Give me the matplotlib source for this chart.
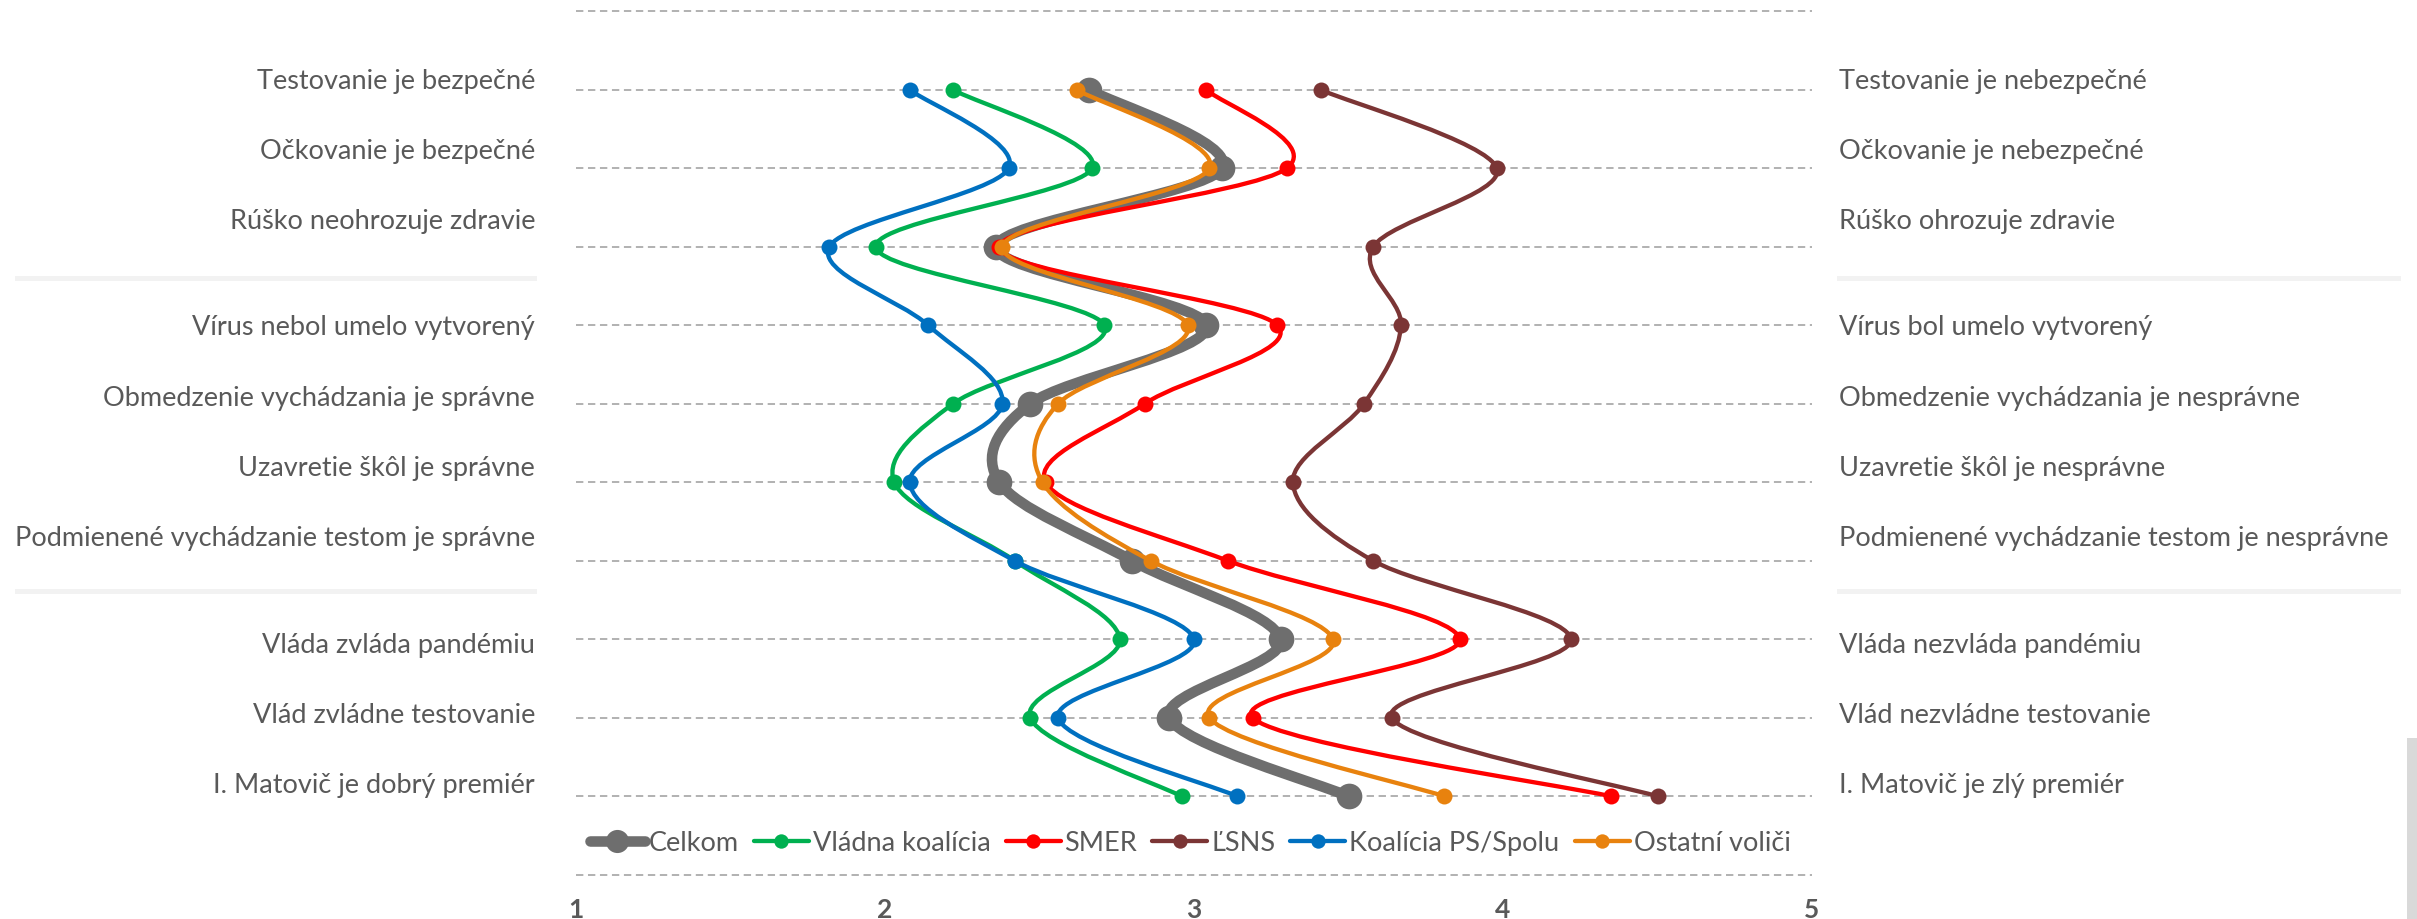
import numpy as np
import matplotlib
matplotlib.use("Agg")
import matplotlib.pyplot as plt
from matplotlib.path import Path
from matplotlib.patches import PathPatch, Rectangle
from matplotlib.lines import Line2D

# ---------------- data ----------------
left_labels = [
    "Testovanie je bezpečné",
    "Očkovanie je bezpečné",
    "Rúško neohrozuje zdravie",
    "Vírus nebol umelo vytvorený",
    "Obmedzenie vychádzania je správne",
    "Uzavretie škôl je správne",
    "Podmienené vychádzanie testom je správne",
    "Vláda zvláda pandémiu",
    "Vlád zvládne testovanie",
    "I. Matovič je dobrý premiér",
]
right_labels = [
    "Testovanie je nebezpečné",
    "Očkovanie je nebezpečné",
    "Rúško ohrozuje zdravie",
    "Vírus bol umelo vytvorený",
    "Obmedzenie vychádzania je nesprávne",
    "Uzavretie škôl je nesprávne",
    "Podmienené vychádzanie testom je nesprávne",
    "Vláda nezvláda pandémiu",
    "Vlád nezvládne testovanie",
    "I. Matovič je zlý premiér",
]
group_sizes = [3, 4, 3]

series_names = ["Celkom", "Vládna koalícia", "SMER", "ĽSNS", "Koalícia PS/Spolu", "Ostatní voliči"]
celkom  = [2.66, 3.09, 2.36, 3.04, 2.47, 2.37, 2.80, 3.28, 2.92, 3.50]
vladna  = [2.22, 2.67, 1.97, 2.71, 2.22, 2.03, 2.42, 2.76, 2.47, 2.96]
smer    = [3.04, 3.30, 2.37, 3.27, 2.84, 2.52, 3.11, 3.86, 3.19, 4.35]
lsns    = [3.41, 3.98, 3.58, 3.67, 3.55, 3.32, 3.58, 4.22, 3.64, 4.50]
ps      = [2.08, 2.40, 1.82, 2.14, 2.38, 2.08, 2.42, 3.00, 2.56, 3.14]
ostatni = [2.62, 3.05, 2.38, 2.98, 2.56, 2.51, 2.86, 3.45, 3.05, 3.81]
x_ticks = [1, 2, 3, 4, 5]

series_values = [celkom, vladna, smer, lsns, ps, ostatni]
colors = ["#6E6E6E", "#00B050", "#FF0000", "#7B3535", "#0070C0", "#E8820E"]
line_w = [7.6, 3.1, 3.1, 3.1, 3.1, 3.1]
mark_s = [18.5, 11.5, 11.5, 11.5, 11.5, 11.5]

TXT = "#595959"
plt.rcParams["font.family"] = ["Lato", "DejaVu Sans"]

# ---------------- figure ----------------
W, H = 2417, 920
fig = plt.figure(figsize=(W / 100, H / 100), dpi=100)
fx = lambda px: px / W
fy = lambda py: 1 - py / H

ax_l, ax_r = 576, 1812
ax_t, ax_b = 12.3, 875.8
ax = fig.add_axes([fx(ax_l), fy(ax_b), fx(ax_r - ax_l), (ax_b - ax_t) / H])
n = len(left_labels)
ax.set_xlim(1, 5)
ax.set_ylim(n + 1, 0)
for s in ax.spines.values():
    s.set_visible(False)
ax.set_yticks([])
ax.set_xticks(x_ticks)
ax.set_xticklabels([str(v) for v in x_ticks], fontsize=19, fontweight="bold", color=TXT)
ax.tick_params(axis="x", length=0, pad=16)

# gridlines
ax.hlines(np.arange(0, n + 2), 1, 5, colors="#A0A0A0", linestyles=(0, (4.6, 2.9)),
          lw=1.15, clip_on=False, zorder=1)


def smooth_path(xs, ys):
    P = np.column_stack([xs, ys]).astype(float)
    m = len(P)
    verts = [P[0]]
    codes = [Path.MOVETO]
    for i in range(m - 1):
        p0 = P[i - 1] if i > 0 else P[i]
        p1, p2 = P[i], P[i + 1]
        p3 = P[i + 2] if i + 2 < m else P[i + 1]
        verts += [p1 + (p2 - p0) / 6.0, p2 - (p3 - p1) / 6.0, p2]
        codes += [Path.CURVE4] * 3
    return Path(verts, codes)


rows = np.arange(1, n + 1)
handles = []
for k, (name, vals, c, lw, ms) in enumerate(zip(series_names, series_values, colors, line_w, mark_s)):
    z = 3 + 2 * k
    patch = PathPatch(smooth_path(vals, rows), fill=False, edgecolor=c, lw=lw,
                      capstyle="round", joinstyle="round", zorder=z)
    ax.add_patch(patch)
    ax.plot(vals, rows, linestyle="none", marker="o", ms=ms, color=c,
            markeredgewidth=0, zorder=z + 1)
    handles.append(Line2D([], [], color=c, lw=lw, marker="o", ms=ms * 0.9,
                          markeredgewidth=0, solid_capstyle="round"))

# ---------------- labels ----------------
fig.canvas.draw()
rend = fig.canvas.get_renderer()


def fit_size(text, target_px, base=20):
    t = fig.text(0, 0, text, fontsize=base)
    w = t.get_window_extent(rend).width
    t.remove()
    return base * target_px / w


lab_fs = fit_size("Podmienené vychádzanie testom je správne", 522)
group_tops = [81, 328, 645]
step = 70.3
label_y = []
for top, g in zip(group_tops, group_sizes):
    label_y += [top + i * step for i in range(g)]

for lab, rlab, yp in zip(left_labels, right_labels, label_y):
    fig.text(fx(535), fy(yp), lab, ha="right", va="center", fontsize=lab_fs, color=TXT)
    fig.text(fx(1839), fy(yp), rlab, ha="left", va="center", fontsize=lab_fs, color=TXT)

# separators
for yp in [279.5, 592.5]:
    fig.add_artist(Rectangle((fx(15), fy(yp + 2.5)), fx(537 - 15), 5 / H,
                             facecolor="#F2F2F2", edgecolor="none"))
    fig.add_artist(Rectangle((fx(1837), fy(yp + 2.5)), fx(2401 - 1837), 5 / H,
                             facecolor="#F2F2F2", edgecolor="none"))

# legend
leg_fs = fit_size("Koalícia PS/Spolu", 209)
fs_px = leg_fs * 100 / 72
leg = ax.legend(handles, series_names, loc="center", ncol=6, frameon=False,
                bbox_to_anchor=(fx(1190), fy(843.5)), bbox_transform=fig.transFigure,
                fontsize=leg_fs, handlelength=55 / fs_px, handletextpad=4 / fs_px,
                columnspacing=15 / fs_px, borderpad=0, borderaxespad=0, numpoints=1)
for t in leg.get_texts():
    t.set_color(TXT)

# scrollbar remnant at right edge
fig.add_artist(Rectangle((fx(2407), 0), fx(W - 2407), (920 - 739) / H,
                         facecolor="#D9D9D9", edgecolor="none"))

fig.savefig("out.png", dpi=100, facecolor="white")
